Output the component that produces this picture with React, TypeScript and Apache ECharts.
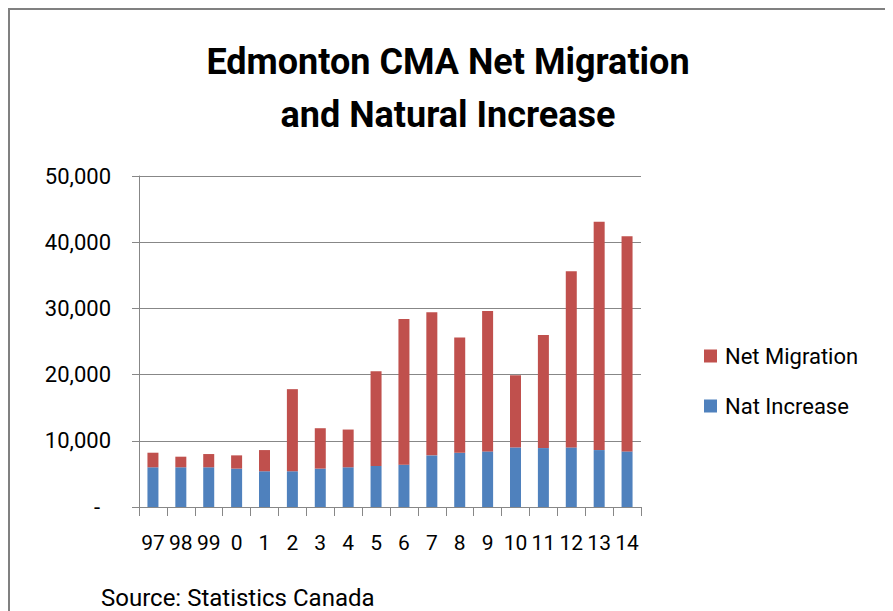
import React, { useEffect, useRef } from "react";
import * as echarts from "echarts";

// Year labels (two-digit years, 1997–2014)
const years = ["97", "98", "99", "0", "1", "2", "3", "4", "5", "6", "7", "8", "9", "10", "11", "12", "13", "14"];

// Natural increase (births minus deaths)
const natIncrease = [6000, 6000, 6000, 5800, 5400, 5400, 5800, 6000, 6200, 6400, 7800, 8200, 8400, 9000, 8900, 9000, 8600, 8400];

// Net migration (all sources)
const netMigration = [2200, 1600, 2000, 2000, 3200, 12400, 6100, 5700, 14300, 22000, 21600, 17400, 21200, 10900, 17100, 26600, 34500, 32500];

const FONT = "Roboto, 'Liberation Sans', sans-serif";
const GRID_GREY = "#878787";

export default function App() {
  const ref = useRef<HTMLDivElement>(null);

  useEffect(() => {
    document.documentElement.style.overflow = "hidden";
    document.body.style.overflow = "hidden";
    if (!ref.current) return;
    const chart = echarts.init(ref.current, undefined, { renderer: "svg" });
    chart.setOption({
      animation: false,
      backgroundColor: "#ffffff",
      textStyle: { fontFamily: FONT },
      title: {
        text: "Edmonton CMA Net Migration\nand Natural Increase",
        left: "center",
        top: 27,
        padding: 0,
        textStyle: {
          fontFamily: FONT,
          fontSize: 36,
          fontWeight: "bold",
          lineHeight: 53,
          color: "#000000",
        },
      },
      legend: {
        orient: "vertical",
        left: 696,
        top: 337,
        padding: 0,
        itemWidth: 13,
        itemHeight: 13,
        itemGap: 28,
        icon: "rect",
        data: ["Net Migration", "Nat Increase"],
        textStyle: {
          fontFamily: FONT,
          fontSize: 22,
          lineHeight: 22,
          color: "#000000",
          padding: [0, 0, 0, 3],
        },
      },
      grid: {
        left: 131,
        top: 168,
        width: 502,
        height: 331,
        containLabel: false,
      },
      xAxis: {
        type: "category",
        data: years,
        axisLine: { show: true, lineStyle: { color: GRID_GREY, width: 1 } },
        axisTick: { show: true, length: 9, lineStyle: { color: GRID_GREY } },
        axisLabel: {
          fontFamily: FONT,
          fontSize: 21,
          color: "#000000",
          margin: 25,
          interval: 0,
        },
      },
      yAxis: {
        type: "value",
        min: 0,
        max: 50000,
        interval: 10000,
        axisLine: { show: true, lineStyle: { color: GRID_GREY, width: 1 } },
        axisTick: { show: true, length: 7, lineStyle: { color: GRID_GREY } },
        splitLine: { show: true, lineStyle: { color: GRID_GREY, width: 1 } },
        axisLabel: {
          fontFamily: FONT,
          fontSize: 22,
          color: "#000000",
          margin: 28,
          formatter: (v: number) => (v === 0 ? "{dash|-}" : v.toLocaleString("en-US")),
          rich: {
            dash: { fontFamily: FONT, fontSize: 22, color: "#000000", padding: [0, 11, 0, 0] },
          },
        },
      },
      series: [
        {
          name: "Nat Increase",
          type: "bar",
          stack: "total",
          barWidth: 11,
          itemStyle: { color: "#4F81BD" },
          data: natIncrease,
        },
        {
          name: "Net Migration",
          type: "bar",
          stack: "total",
          barWidth: 11,
          itemStyle: { color: "#C0504D" },
          data: netMigration,
        },
      ],
      graphic: [
        {
          type: "rect",
          shape: { x: 1, y: 1, width: 878, height: 700 },
          style: { fill: "none", stroke: "#808080", lineWidth: 2 },
          silent: true,
        },
        {
          type: "text",
          x: 93,
          y: 590,
          style: {
            text: "Source: Statistics Canada",
            fontFamily: FONT,
            fontSize: 24,
            fill: "#000000",
            textVerticalAlign: "middle",
          },
          silent: true,
        },
      ],
    });
    return () => chart.dispose();
  }, []);

  return <div ref={ref} style={{ width: 880, height: 603 }} />;
}
